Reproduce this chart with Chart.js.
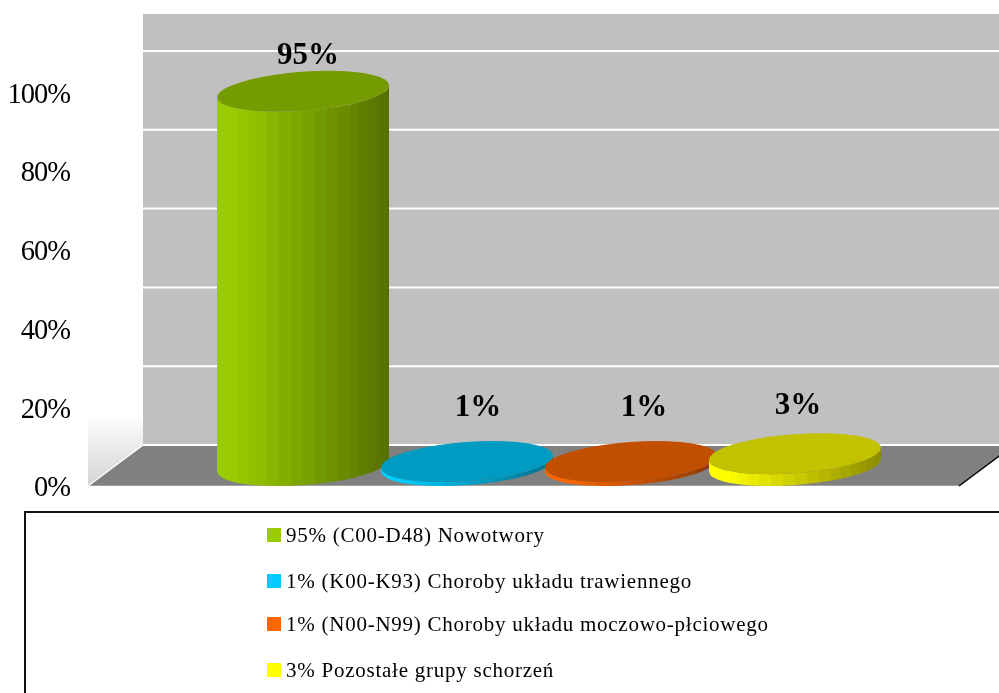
<!DOCTYPE html>
<html lang="pl">
<head>
<meta charset="utf-8">
<title>Grupy schorzeń</title>
<script src="https://cdn.jsdelivr.net/npm/chart.js@4/dist/chart.umd.min.js"></script>
<style>
  html, body { margin: 0; background: #fff; }
  canvas { display: block; }
</style>
</head>
<body>
<canvas id="chart" width="999" height="693"></canvas>
<script>
// DATA
const categories = ["Grupy"];
const seriesLabels = [
  "95% (C00-D48) Nowotwory",
  "1% (K00-K93) Choroby układu trawiennego",
  "1% (N00-N99) Choroby układu moczowo-płciowego",
  "3% Pozostałe grupy schorzeń",
];
const seriesValues = [95, 1, 1, 3];
const seriesColors = ["#99CC00", "#00CCFF", "#FF6600", "#FFFF00"];
const tickValues = [0, 20, 40, 60, 80, 100];

// depth of the 3D box, and of the bars inside it
const DEPTH_X = 55;
const DEPTH_Y = 41;
const BAR_DEPTH_X = 25.5;
const BAR_DEPTH_Y = 20.5;
const FONT = '"Liberation Serif", serif';

// value labels sit by hand around each bar, [dx, dy] from the top centre
const valueLabelOffsets = [[5, -35], [11, -54], [13, -54], [3, -48]];
const legendRows = [535, 581, 624, 670];

function shade(hex, factor) {
  const n = parseInt(hex.slice(1), 16);
  const r = Math.round(((n >> 16) & 255) * factor);
  const g = Math.round(((n >> 8) & 255) * factor);
  const b = Math.round((n & 255) * factor);
  return `rgb(${r},${g},${b})`;
}

function polygon(ctx, pts, fill) {
  ctx.beginPath();
  pts.forEach((p, i) => (i ? ctx.lineTo(p[0], p[1]) : ctx.moveTo(p[0], p[1])));
  ctx.closePath();
  ctx.fillStyle = fill;
  ctx.fill();
}

// WALLS AND FLOOR
function drawBox(chart) {
  const { ctx, chartArea: a, scales } = chart;
  const base = scales.y.getPixelForValue(0);

  polygon(ctx, [
    [a.left + DEPTH_X, a.top - DEPTH_Y],
    [a.right + DEPTH_X, a.top - DEPTH_Y],
    [a.right + DEPTH_X, base - DEPTH_Y],
    [a.left + DEPTH_X, base - DEPTH_Y],
  ], "#C0C0C0");

  const wall = ctx.createLinearGradient(0, base - 72, 0, base);
  wall.addColorStop(0, "#ffffff");
  wall.addColorStop(1, "#d4d4d4");
  polygon(ctx, [
    [a.left, a.top],
    [a.left + DEPTH_X, a.top - DEPTH_Y],
    [a.left + DEPTH_X, base - DEPTH_Y],
    [a.left, base],
  ], wall);

  polygon(ctx, [
    [a.left, base],
    [a.right, base],
    [a.right + DEPTH_X, base - DEPTH_Y],
    [a.left + DEPTH_X, base - DEPTH_Y],
  ], "#808080");

  // grid lines run along the back wall only
  ctx.strokeStyle = "#ffffff";
  ctx.lineWidth = 2;
  tickValues.forEach((v) => {
    const y = scales.y.getPixelForValue(v) - DEPTH_Y;
    ctx.beginPath();
    ctx.moveTo(a.left + DEPTH_X, y);
    ctx.lineTo(a.right + DEPTH_X, y);
    ctx.stroke();
  });

  ctx.lineWidth = 1.5;
  ctx.beginPath();
  ctx.moveTo(a.left, base);
  ctx.lineTo(a.left + DEPTH_X, base - DEPTH_Y);
  ctx.moveTo(a.left, base + 0.5);
  ctx.lineTo(a.right, base + 0.5);
  ctx.stroke();

  ctx.strokeStyle = "#000000";
  ctx.beginPath();
  ctx.moveTo(a.right, base);
  ctx.lineTo(a.right + DEPTH_X, base - DEPTH_Y);
  ctx.stroke();
}

// CYLINDERS
function drawCylinder(chart, bar, color) {
  const { ctx } = chart;
  const half = bar.width / 2;
  const cx = bar.x + BAR_DEPTH_X;
  const topY = bar.y - BAR_DEPTH_Y;
  const baseY = bar.base - BAR_DEPTH_Y;
  const p = Math.sqrt(half * half - BAR_DEPTH_X * BAR_DEPTH_X);
  const alpha = Math.atan2(BAR_DEPTH_X, p);
  const at = (t, y) => [
    cx + p * Math.cos(t) + BAR_DEPTH_X * Math.sin(t),
    y - BAR_DEPTH_Y * Math.sin(t),
  ];
  // whole pixel x keeps the seams between strips from showing
  const snap = (pt) => [Math.round(pt[0]), pt[1]];

  // front side, one flat strip per facet, bright on the left
  const strips = 22;
  for (let i = 0; i < strips; i++) {
    const t0 = Math.PI + alpha + (Math.PI * i) / strips;
    const t1 = Math.PI + alpha + (Math.PI * (i + 1)) / strips;
    const a = snap(at(t0, topY));
    const b = snap(at(t1, topY));
    const u = ((a[0] + b[0]) / 2 - (cx - half)) / bar.width;
    const factor = u < 0.1 ? 1 : 1 - ((u - 0.1) / 0.9) * 0.45;
    polygon(ctx, [a, b, snap(at(t1, baseY)), snap(at(t0, baseY))], shade(color, factor));
  }

  const lid = [];
  for (let i = 0; i < 40; i++) {
    lid.push(at((Math.PI * 2 * i) / 40, topY));
  }
  polygon(ctx, lid, shade(color, 0.76));
}

const box3d = {
  id: "box3d",
  beforeDraw(chart) {
    // tick labels are set tight
    chart.ctx.letterSpacing = "-1px";
  },
  beforeDatasetsDraw(chart) {
    chart.ctx.letterSpacing = "0px";
    drawBox(chart);
    chart.data.datasets.forEach((ds, i) => {
      drawCylinder(chart, chart.getDatasetMeta(i).data[0], ds.backgroundColor);
    });
    // the flat rectangles are replaced by the cylinders above
    return false;
  },
  afterDraw(chart) {
    const { ctx } = chart;

    // value labels
    ctx.save();
    ctx.fillStyle = "#000";
    ctx.font = `bold 31px ${FONT}`;
    ctx.textAlign = "center";
    ctx.textBaseline = "middle";
    chart.data.datasets.forEach((ds, i) => {
      const bar = chart.getDatasetMeta(i).data[0];
      const [dx, dy] = valueLabelOffsets[i];
      ctx.fillText(`${ds.data[0]}%`, bar.x + BAR_DEPTH_X + dx, bar.y - BAR_DEPTH_Y + dy);
    });
    ctx.restore();

    // legend box runs off the right and bottom edges
    ctx.save();
    ctx.strokeStyle = "#111";
    ctx.lineWidth = 2;
    ctx.strokeRect(25, 512, 990, 200);
    ctx.font = `21px ${FONT}`;
    ctx.letterSpacing = "0.75px";
    ctx.textAlign = "left";
    ctx.textBaseline = "middle";
    chart.data.datasets.forEach((ds, i) => {
      const y = legendRows[i];
      ctx.fillStyle = ds.backgroundColor;
      ctx.fillRect(267, y - 7, 14, 14);
      ctx.fillStyle = "#000";
      ctx.fillText(ds.label, 286, y + 1);
    });
    ctx.restore();
  },
};

// INIT
new Chart(document.getElementById("chart"), {
  type: "bar",
  data: {
    labels: categories,
    datasets: seriesValues.map((v, i) => ({
      label: seriesLabels[i],
      data: [v],
      backgroundColor: seriesColors[i],
    })),
  },
  options: {
    responsive: false,
    animation: false,
    devicePixelRatio: 1,
    categoryPercentage: 0.753,
    barPercentage: 1.049,
    layout: { padding: { top: 55, right: 40, bottom: 207, left: 0 } },
    plugins: {
      legend: { display: false },
      tooltip: { enabled: false },
    },
    scales: {
      x: { display: false },
      y: {
        min: 0,
        max: 109.4,
        afterFit(scale) {
          scale.width = 88;
        },
        grid: { display: false, drawTicks: false },
        border: { display: false },
        ticks: {
          stepSize: 20,
          includeBounds: false,
          padding: 18,
          labelOffset: 3,
          color: "#000",
          font: { family: FONT, size: 28.5 },
          callback: (v) => `${v}%`,
        },
      },
    },
  },
  plugins: [box3d],
});
</script>
</body>
</html>
